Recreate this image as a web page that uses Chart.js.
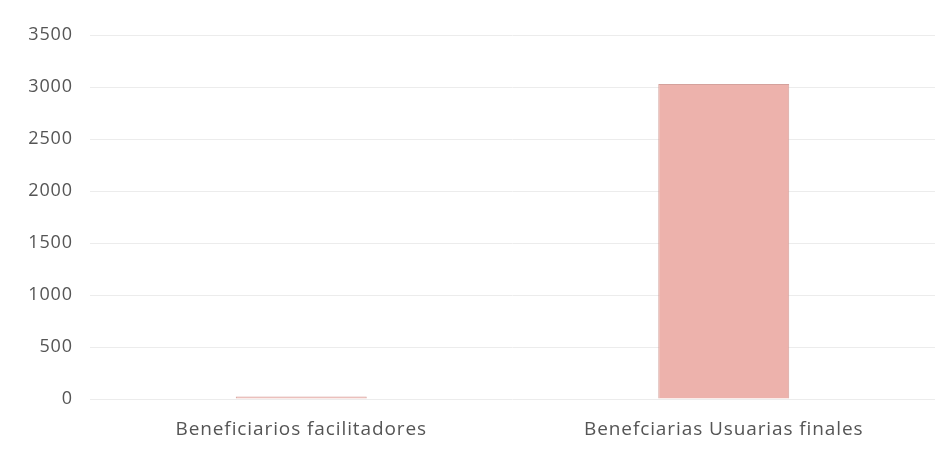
<!DOCTYPE html>
<html>
<head>
<meta charset="utf-8">
<script src="https://cdn.jsdelivr.net/npm/chart.js@4"></script>
<style>
  html, body { margin: 0; padding: 0; background: #fff; }
  #wrap { width: 951px; height: 455px; }
</style>
</head>
<body>
<div id="wrap"><canvas id="barChart"></canvas></div>
<script>
const categories = ["Beneficiarios facilitadores", "Benefciarias Usuarias finales"];
const values = [25, 3030];
const yTicks = [0, 500, 1000, 1500, 2000, 2500, 3000, 3500];

Chart.defaults.font.family = "'Open Sans', sans-serif";
Chart.defaults.font.size = 18;
Chart.defaults.color = '#555555';

// the reference text is set a little wider than Open Sans
const wideText = {
  id: 'wideText',
  beforeDraw: chart => { chart.ctx.letterSpacing = '0.9px'; }
};

new Chart(document.getElementById('barChart'), {
  type: 'bar',
  data: {
    labels: categories,
    datasets: [{
      data: values,
      backgroundColor: '#EDB2AC',
      borderColor: '#D4A19C',
      borderWidth: 1,
      categoryPercentage: 1,
      barPercentage: 0.31
    }]
  },
  options: {
    responsive: true,
    maintainAspectRatio: false,
    animation: false,
    layout: { padding: { top: 35, right: 16, bottom: 0, left: 0 } },
    plugins: {
      legend: { display: false },
      tooltip: { enabled: false }
    },
    scales: {
      x: {
        afterFit: axis => { axis.height = 56; },
        grid: { display: false, drawTicks: false },
        border: { display: false },
        ticks: { padding: 19, font: { size: 19 } }
      },
      y: {
        min: 0,
        max: 3500,
        afterBuildTicks: axis => { axis.ticks = yTicks.map(v => ({ value: v })); },
        afterFit: axis => { axis.width = 90; },
        grid: { color: '#ececec', drawTicks: false },
        border: { display: false },
        ticks: { padding: 17, callback: v => String(v) }
      }
    }
  },
  plugins: [wideText]
});
</script>
</body>
</html>
